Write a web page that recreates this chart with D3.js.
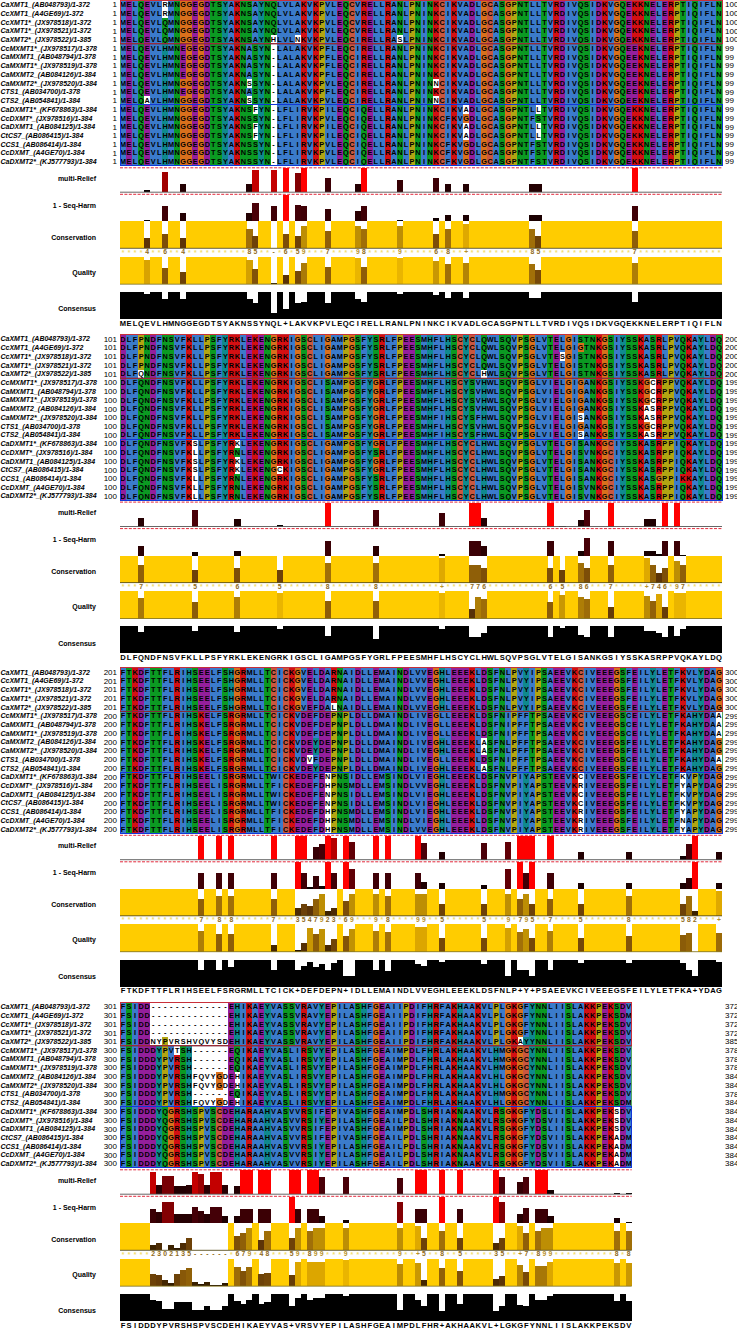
<!DOCTYPE html>
<html><head><meta charset="utf-8">
<script src="https://cdn.jsdelivr.net/npm/d3@7/dist/d3.min.js"></script>
<style>html,body{margin:0;padding:0;background:#fff}svg{display:block}text{font-family:"Liberation Sans",Arial,sans-serif}rect{shape-rendering:crispEdges}</style>
</head><body><div id="chart"></div>
<script>
const seqNames=["CaXMT1_(AB048793)/1-372","CcXMT1_(A4GE69)/1-372","CcXMT1*_(JX978518)/1-372","CaXMT1*_(JX978521)/1-372","CaXMT2*_(JX978522)/1-385","CcMXMT1*_(JX978517)/1-378","CaMXMT1_(AB048794)/1-378","CaMXMT1*_(JX978519)/1-378","CaMXMT2_(AB084126)/1-384","CaMXMT2*_(JX978520)/1-384","CTS1_(AB034700)/1-378","CTS2_(AB054841)/1-384","CaDXMT1*_(KF678863)/1-384","CcDXMT*_(JX978516)/1-384","CaDXMT1_(AB084125)/1-384","CtCS7_(AB086415)/1-384","CCS1_(AB086414)/1-384","CcDXMT_(A4GE70)/1-384","CaDXMT2*_(KJ577793)/1-384"];
const groupOf=[0,0,0,0,0,1,1,1,1,1,1,1,2,2,2,2,2,2,2];
const trackNames=["multi-Relief","1 - Seq-Harm","Conservation","Quality","Consensus"];

const seq1=[
"MELQEVLRMNGGEGDTSYAKNSAYNQLVLAKVKPVLEQCVRELLRANLPNINKCIKVADLGCASGPNTLLTVRDIVQSIDKVGQEKKNELERPTIQIFLN",
"MELQEVLRMNGGEGDTSYAKNSAYNQLVLAKVKPVLEQCVRELLRANLPNINKCIKVADLGCASGPNTLLTVRDIVQSIDKVGQEKKNELERPTIQIFLN",
"MELQEVLQMNGGEGDTSYAKNSAYNQLVLAKVKPVLEQCVRELLRANLPNINKCIKVADLGCASGPNTLLTVRDIVQSIDKVGQEKKNELERPTIQIFLN",
"MELQEVLQMNGGEGDTSYAKNSAYNQLVLAKVKPVLEQCVRELLRANLPNINKCIKVADLGCASGPNTLLTVRDIVQSIDKVGQEKKNELERPTIQIFLN",
"MELQEVLQMNGGEGDTSYAKNSAYNHLVLNKVKPVLEQCIRELLRASLPNINKCIKVADLGCASGPNTLLTVRDIVQSIDKVGQEKKNELERPTIQIFLN",
"MELQEVLHMNEGEGDTSYAKNASYN-LALAKVKPFLEQCIRELLRANLPNINKCIKVADLGCASGPNTLLTVRDIVQSIDKVGQEEKNELERPTIQIFLN",
"MELQEVLHMNEGEGDTSYAKNASYN-LALAKVKPFLEQCIRELLRANLPNINKCIKVADLGCASGPNTLLTVRDIVQSIDKVGQEEKNELERPTIQIFLN",
"MELQEVLHMNEGEGDTSYAKNASYN-LALAKVKPFLEQCIRELLRANLPNINKCIKVADLGCASGPNTLLTVRDIVQSIDKVGQEEKNELERPTIQIFLN",
"MELQEVLHMNEGEGDTSYAKNASYN-LALAKVKPFLEQCIRELLRANLPNINKCIKVADLGCASGPNTLLTVRDIVQSIDKVGQEEKNELERPTIQIFLN",
"MELQEVLHMNGGEGDTSYAKNSSYN-LALAKVKPVLEQCIRELLRANLPNINNCIKVADLGCASGPNTLLTVRDIVQSIDKVGQEEKNELERPTIQIFLN",
"MELQEVLHMNEGEGDTSYAKNASYN-LALAKVKPFLEQCIRELLRANLPNINKCIKVADLGCASGPNTLLTVRDIVQSIDKVGQEEKNELERPTIQIFLN",
"MELQAVLHMNGGEGDTSYAKNSSYN-LALAKVKPVLEQCIRELLRANLPNINNCIKVADLGCASGPNTLLTVRDIVQSIDKVGQEEKNELERPTIQIFLN",
"MELQEVLHMNGGEGDTSYAKNSFYN-LFLIRVKPILEQCIQELLRANLPNINKCIKVADLGCASGPNTLLTVRDIVQSIDKVGQEKKNELERPTIQIFLN",
"MELQEVLHMNGGEGDTSYAKNSSYN-LFLIRVKPVLEQCIQELLRANLPNINKCFKVGDLGCASGPNTFSTVRDIVQSIDKVGQEKKNELERPTIQIFLN",
"MELQEVLHMNGGEGDTSYAKNSFYN-LFLIRVKPILEQCIQELLRANLPNINKCIKVADLGCASGPNTLLTVRDIVQSIDKVGQEKKNELERPTIQIFLN",
"MELQEVLHMNGGEGDTSYAKNSFYN-LFLIRVKPILEQCIQELLRANLPNINKCIKVADLGCASGPNTLLTVRDIVQSIDKVGQEKKNELERPTIQIFLN",
"MELQEVLHMNGGEGDTSYAKNSSYN-LFLIRVKPVLEQCIQELLRANLPNINKCFKVGDLGCASGPNTFSTVRDIVQSIDKVGQEKKNELERPTIQIFLN",
"MELQEVLHMNGGEGDTSYAKNSSYN-LFLIRVKPVLEQCIQELLRANLPNINKCFKVGDLGCASGPNTFSTVRDIVQSIDKVGQEKKNELERPTIQIFLN",
"MELQEVLHMNGGEGDTSYAKNSSYN-LFLIRVKPVLEQCIQELLRANLPNINKCFKVGDLGCASGPNTFSTVRDIVQSIDKVGQEKKNELERPTIQIFLN"];
const seq2=[
"DLFPNDFNSVFKLLPSFYRKLEKENGRKIGSCLIGAMPGSFYSRLFPEESMHFLHSCYCLQWLSQVPSGLVTELGISTNKGSIYSSKASRLPVQKAYLDQ",
"DLFPNDFNSVFKLLPSFYRKLEKENGRKIGSCLIGAMPGSFYSRLFPEESMHFLHSCYCLQWLSQVPSGLVTELGIGTNKGSIYSSKASRLPVQKAYLDQ",
"DLFPNDFNSVFKLLPSFYRKLEKENGRKIGSCLIGAMPGSFYSRLFPEESMHFLHSCYCLQWLSQVPSGLVTESGISTNKGSIYSSKASRLPVQKAYLDQ",
"DLFPNDFNSVFKLLPSFYRKLEKENGRKIGSCLIGAMPGSFYSRLFPEESMHFLHSCYCLQWLSQVPSGLVTELGISTNKGSIYSSKASRLPVQKAYLDQ",
"DLFQNDFNSVFKLLPSFYRKLEKENGRKIGSCLIGAMPGSFYSRLFPEESMHFLHSCYCLHWLSQVPSGLVTELGISTNKGSIYSSKASRLPVQKAYLDQ",
"DLFQNDFNSVFKLLPSFYRKLEKENGRKIGSCLISAMPGSFYGRLFPEESMHFLHSCYSVHWLSQVPSGLVIELGIGANKGSIYSSKGCRPPVQKAYLDQ",
"DLFQNDFNSVFKLLPSFYRKLEKENGRKIGSCLISAMPGSFYGRLFPEESMHFLHSCYSVHWLSQVPSGLVIELGIGANKGSIYSSKGCRPPVQKAYLDQ",
"DLFQNDFNSVFKLLPSFYRKLEKENGRKIGSCLISAMPGSFYGRLFPEESMHFLHSCYSVHWLSQVPSGLVIELGIGANKGSIYSSKGCRPPVQKAYLDQ",
"DLFQNDFNSVFKLLPSFYRKLEKENGRKIGSCLISAMPGSFYGRLFPEESMHFLHSCYSVHWLSQVPSGLVIELGIGANKGSIYSSKASRPPVQKAYLDQ",
"DLFQNDFNSVFKLLPSFYRKLEKENGRKIGSCLISAMPGSFYGRLFPEESMHFIHSCYSFHWLSQVPSGLVIELGISANKGSIYSSKASRPPVQKAYLDQ",
"DLFQNDFNSVFKLLPSFYRKLEKENGRKIGSCLISAMPGSFYGRLFPEESMHFLHSCYSVHWLSQVPSGLVIELGIGANKGSIYSSKGCRPPVQKAYLDQ",
"DLFQNDFNSVFKLLPSFYRKLEKENGRKIGSCLISAMPGSFYGRLFPEESMHFIHSCYSFHWLSQVPSGLVIELGISANKGSIYSSKASRPPVQKAYLDQ",
"DLFQNDFNSVFKSLPSFYRKLEKENGRKIGSCLIGAMPGSFYGRLFPEESMHFLHSCYCLHWLSQVPSGLVTELGISANKGCIYSSKASRPPIQKAYLDQ",
"DLFQNDFNSVFKLLPSFYRNLEKENGRKIGSCLIGAMPGSFYSRLFPEESMHFLHSCYCLHWLSQVPSGLVTELGISVNKGCIYSSKASRPPIQKAYLDQ",
"DLFQNDFNSVFKSLPSFYRKLEKENGRKIGSCLIGAMPGSFYGRLFPEESMHFLHSCYCLHWLSQVPSGLVTELGISANKGCIYSSKASRPPIQKAYLDQ",
"DLFQNDFNSVFKSLPSFYRKLEKENGCKIGSCLIGAMPGSFYGRLFPEESMHFLHSCYCLHWLSQVPSGLVTELGISANKGCIYSSKASRPPIQKAYLDQ",
"DLFQNDFNSVFKLLPSFYRNLEKENGRKIGSCLIGAMPGSFYSRLFPEESMHFLHSCYCLHWLSQVPSGLVTELGISANKGCIYSSKASGPPIKKAYLDQ",
"DLFQNDFNSVFKLLPSFYRNLEKENGRKIGSCLIGAMPGSFYSRLFPEESMHFLHSCYCLHWLSQVPSGLVTELGISVNKGCIYSSKASRPPIQKAYLDQ",
"DLFQNDFNSVFKLLPSFYRNLEKENGRKIGSCLIGAMPGSFYSRLFPEESMHFLHSCYCLHWLSQVPSGLVTELGISVNKGCIYSSKASRPPIQKAYLDQ"];
const seq3=[
"FTKDFTTFLRIHSEELFSHGRMLLTCICKGVELDARNAIDLLEMAINDLVVEGHLEEEKLDSFNLPVYIPSAEEVKCIVEEEGSFEILYLETFKVLYDAG",
"FTKDFTTFLRIHSEELFSHGRMLLTCICKGVELDARNAIDLLEMAINDLVVEGHLEEEKLDSFNLPVYIPSAEEVKCIVEEEGSFEILYLETFKVLYDAG",
"FTKDFTTFLRIHSEELFSHGRMLLTCICKGVELDARNAIDLLEMAINDLVVEGHLEEEKLDSFNLPVYIPSAEEVKCIVEEEGSFEILYLETFKVLYDAG",
"FTKDFTTFLRIHSEELFSHGRMLLTCICKGVELDARNAIDLLEMAINDLVVEGHLEEEKLDSFNLPVYIPSAEEVKCIVEEEGSFEILYLETFKVLYDAG",
"FTKDFTTFLRIHSEELFSHGRMLLTCICKGVEFDALNAIDLLEMAINDLVVEGHLEEEKLDSFNLPVYIPSAEEVKCIVEEEGSFEILYLETFKVLYDAG",
"FTKDFTTFLRIHSKELFSRGRMLLTCICKVDEFDEPNPLDLLDMAINDLIVEGLLEEEKLDSFNIPFFTPSAEEVKCIVEEEGSCEILYLETFKAHYDAA",
"FTKDFTTFLRIHSKELFSRGRMLLTCICKVDEFDEPNPLDLLDMAINDLIVEGLLEEEKLDSFNIPFFTPSAEEVKCIVEEEGSCEILYLETFKAHYDAA",
"FTKDFTTFLRIHSKELFSRGRMLLTCICKVDEFDEPNPLDLLDMAINDLIVEGLLEEEKLDSFNIPFFTPSAEEVKCIVEEEGSCEILYLETFKAHYDAA",
"FTKDFTTFLRIHSKELFSRGRMLLTCICKVDEYDEPNPLDLLDMAINDLIVEGHLEEEKLASFNLPFFTPSAEEVKCIVEEEGSFEILYLETFKAHYDAG",
"FTKDFTTFLRIHSKELFSRGRMLLTCICKVDEYDEPNPLDLLDMAINDLIVEGHLEEEKLASFNLPFFTPSAEEVKCIVEEEGSFEILYLETFKAHYDAG",
"FTKDFTTFLRIHSKELFSRGRMLLTCICKVDVFDEPNPLDLLDMAINDLIVEGLLEEEKLDSFNIPFFTPSAEEVKCIVEEEGSCEILYLETFKAHYDAA",
"FTKDFTTFLRIHSKELFSRGRMLLTCICKVDEYDEPNPLDLLDMAINDLIVEGHLEEEKLASFNLPFFTPSAEEVKCIVEEEGSFEILYLETFKAHYDAG",
"FTKDFTTFLRIHSEELISRGRMLLTWICKEDEFENPNSIDLLEMSINDLVIEGHLEEEKLDSFNVPIYAPSTEEVKCIVEEEGSFEILYLETFKVPYDAG",
"FTKDFTTFLRIHSEELISRGRMLLTFICKEDEFDHPNSMDLLEMSINDLVVEGHLEEEKLDSFNVPIYAPSTEEVKRIVEEEGSFEILYLETFYAPYDAG",
"FTKDFTTFLRIHSEELISRGRMLLTWICKEDEFENPNSIDLLEMSINDLVIEGHLEEEKLDSFNVPIYAPSTEEVKCIVEEEGSFEILYLETFKVPYDAG",
"FTKDFTTFLRIHSEELISRGRMLLTWICKEDEFENPNSIDLLEMSINDLVIEGHLEEEKLDSFNVPIYAPSTEEVKCIVEEEGSFEILYLETFKVPYDAG",
"FTKDFTTFLRIHSEELISRGRMLLTFICKEDEFDHPNSMDLLEMSINDLVIEGHLEEEKLDSFNVPIYAPSTEEVKRIVEEEGSFEILYLETFYAPYDAG",
"FTKDFTTFLRIHSEELISRGRMLLTFICKEDEFDHPNSMDLLEMSINDLVIEGHLEEEKLDSFNVPIYAPSTEEVKRIVEEEGSFEILYLETFNAPYDAG",
"FTKDFTTFLRIHSEELISRGRMLLTFICKEDEFDHPNSMDLLEMSINDLVVEGHLEEEKLDSFNVPIYAPSTEEVKRIVEEEGSFEILYLETFYAPYDAG"];
const seq4=[
"FSIDD-------------EHIKAEYVASSVRAVYEPILASHFGEAIIPDIFHRFAKHAAKVLPLGKGFYNNLIISLAKKPEKSDV",
"FSIDD-------------EHIKAEYVASSVRAVYEPILASHFGEAIIPDIFHRFAKHAAKVLPLGKGFYNNLIISLAKKPEKSDM",
"FSIDD-------------EHIKAEYVASSVRAVYEPILASHFGEAIIPDIFHRFAKHAAKVLPLGKGFYNNLIISLAKKPEKSDV",
"FSIDD-------------EHIKAEYVASSVRAVYEPILASHFGEAIIPDIFHRFAKHAAKVLPLGKGFYNNLIISLAKKPEKSDV",
"FSIDDNYPVRSHVQVYSDEHIKAEYVASSVRAVYEPILASHFGEAIIPDIFHRFAKHAAKVLPLGKAYYNNLIISLAKKPEKSDV",
"FSIDDDYPVTSH------EQIKAEYVASLIRSVYEPILASHFGEAIMPDLFHRLAKHAAKVLHMGKGCYNNLIISLAKKPEKSDV",
"FSIDDDYPVRSH------EQIKAEYVASLIRSVYEPILASHFGEAIMPDLFHRLAKHAAKVLHMGKGCYNNLIISLAKKPEKSDV",
"FSIDDDYPVRSH------EQIKAEYVASLIRSVYEPILASHFGEAIMPDLFHRLAKHAAKVLHMGKGCYNNLIISLAKKPEKSDV",
"FSIDDDYPVRSHFQVYGDEHIKAEYVASLIRSVYEPILASHFGEAIMPDLFHRLAKHAAKVLHLGKGCYNNLIISLAKKPEKSDV",
"FSIDDDYPVRSHFQVYGDEHIKAEYVASLIRSVYEPILASHFGEAIMPDLFHRLAKHAAKVLHLGKGCYNNLIISLAKKPEKSDV",
"FSIDDDYPVRSH------EQIKAEYVASLIRSVYEPILASHFGEAIMPDLFHRLAKHAAKVLHMGKGCYNNLIISLAKKPEKSDV",
"FSIDDDYPVRSHFQVYGDEHIKAEYVASLIRSVYEPILASHFGEAIMPDLFHRLAKHAAKVLHLGKGCYNNLIISLAKKPEKSDM",
"FSIDDDYQGRSHSPVSCDEHARAAHVASVVRSIFEPIVASHFGEAIMPDLSHRIAKNAAKVLRSGKGFYDSLIISLAKKPEKSDV",
"FSIDDDYQGRSHSPVSCDEHARAAHVASVVRSIYEPILASHFGEAILPDLSHRIAKNAAKVLRSGKGFYDSVIISLAKKPEKSDV",
"FSIDDDYQGRSHSPVSCDEHARAAHVASVVRSIFEPIVASHFGEAIMPDLSHRIAKNAAKVLRSGKGFYDSLIISLAKKPEKSDV",
"FSIDDDYQGRSHSPVSCDEHARAAHVASVVRSIFEPIVASHFGEAILPDLSHRIAKNAAKVLRSGKGFYDSVIISLAKKPEKADM",
"FSIDDDYQGRSHSPVSCDEHARAAHVASVVRSIYEPILASHFGEAILPDLSHRIAKNAAKVLRSGKGFYDSVIISLAKKPEKADM",
"FSIDDDYQGRSHSPVSCDEHARAAHVASVVRSIYEPILASHFGEAILPDLSHRIAKNAAKVLRSGKGFYDSVIISLAKKPEKADM",
"FSIDDDYQGRSHSPVSCDEHARAAHVASVVRSIYEPILASHFGEAILPDLSHRIAKNAAKVLRSGKGFYDSVIISLAKKPEKADM"];

const startNums1=[1,1,1,1,1,1,1,1,1,1,1,1,1,1,1,1,1,1,1];
const startNums2=[101,101,101,101,101,100,100,100,100,100,100,100,100,100,100,100,100,100,100];
const startNums3=[201,201,201,201,201,200,200,200,200,200,200,200,200,200,200,200,200,200,200];
const startNums4=[301,301,301,301,301,300,300,300,300,300,300,300,300,300,300,300,300,300,300];
const endNums1=[100,100,100,100,100,99,99,99,99,99,99,99,99,99,99,99,99,99,99];
const endNums2=[200,200,200,200,200,199,199,199,199,199,199,199,199,199,199,199,199,199,199];
const endNums3=[300,300,300,300,300,299,299,299,299,299,299,299,299,299,299,299,299,299,299];
const endNums4=[372,372,372,372,385,378,378,378,384,384,378,384,384,384,384,384,384,384,384];

const consensus1="MELQEVLHMNGGEGDTSYAKNSSYNQL+LAKVKPVLEQCIRELLRANLPNINKCIKVADLGCASGPNTLLTVRDIVQSIDKVGQEKKNELERPTIQIFLN";
const consensus2="DLFQNDFNSVFKLLPSFYRKLEKENGRKIGSCLIGAMPGSFYGRLFPEESMHFLHSCYCLHWLSQVPSGLVTELGISANKGSIYSSKASRPPVQKAYLDQ";
const consensus3="FTKDFTTFLRIHSEELFSRGRMLLTCICK+DEFDEPN+IDLLEMAINDLVVEGHLEEEKLDSFNLP+Y+PSAEEVKCIVEEEGSFEILYLETFKA+YDAG";
const consensus4="FSIDDDYPVRSHSPVSCDEHIKAEYVAS+VRSVYEPILASHFGEAIMPDLFHR+AKHAAKVL+LGKGFYNNLIISLAKKPEKSDV";

// Columns (0-based within a block) where the tracks drop below full conservation.
// Scores: 11 is "*", 10 is "+", -1 is a "-" with no bar.
const varCols1=[4,7,10,21,22,25,27,29,30,34,39,40,46,52,54,57,68,69,85];
const relief1=[.1,.85,.33,.33,.93,.93,1,.8,1,.58,.36,1,.5,.58,.33,.33,.33,.33,1];
const harm1=[.08,.6,.33,.33,.7,.6,1,.63,.6,.49,.41,.6,.08,.15,.26,.26,.26,.26,.6];
const score1=[4,6,4,8,5,-1,6,5,9,7,9,8,9,6,8,10,8,5,7];
const quality1=[.89,.6,.45,.88,.57,.06,.35,.5,.76,.63,.94,.63,.94,.85,.72,.79,.73,.51,.77];
const consVal1=[.93,.73,.73,.73,.58,.21,.36,.58,.62,.58,.73,.62,.93,.88,.78,.78,.78,.78,.62];

const varCols2=[3,12,19,26,34,42,53,58,59,60,71,73,76,77,81,87,88,89,90,92,93];
const relief2=[.35,.7,.3,.06,1,.7,.58,1,1,.35,1,.02,.28,.7,1,.3,.3,0,1,1,0];
const harm2=[.4,.16,.22,.04,.56,.4,.1,.56,.56,.4,.56,.04,.22,.66,.56,.22,.22,.1,.56,.56,.06];
const score2=[7,5,6,5,8,8,10,7,7,6,6,5,8,6,7,10,7,4,6,9,7];
const quality2=[.75,.62,.77,.94,.63,.65,.94,.33,.77,.71,.62,.85,.77,.71,.42,.81,.65,.9,.42,.94,.94];
const consVal2=[.78,.84,.78,.92,.65,.55,.92,.6,.6,.74,.6,.94,.69,.59,.6,.84,.84,.75,.6,.65,.9];

const varCols3=[13,16,18,25,29,30,31,32,33,34,35,37,38,42,44,49,50,53,60,64,66,67,68,71,76,84,93,94,95,99];
const relief3=[1,1,1,1,1,1,.04,.53,.64,1,.9,1,.74,1,1,1,.7,.32,.7,.74,1,1,1,1,.32,.32,.15,.64,1,.32];
const harm3=[.6,.6,.6,.6,1,.6,.1,.5,.14,1,.6,1,.74,.6,.6,.6,.3,.24,.16,.74,1,.6,1,.6,.24,.24,.26,.44,1,.24];
const score3=[7,8,8,7,3,5,4,7,9,2,3,6,9,9,8,9,9,5,5,9,7,9,5,7,5,8,5,8,2,10];
const quality3=[.77,.63,.63,.23,.06,.31,.85,.63,.83,.25,.48,.58,.83,.77,.73,.9,.9,.5,.5,.88,.73,.83,.5,.77,.5,.58,.62,.67,0,.7];
const consVal3=[.62,.63,.71,.63,.63,.77,.92,.73,.83,.62,.87,.38,.38,.63,.58,.83,.77,.9,.83,.38,.6,.6,.38,.63,.87,.87,.87,.63,.38,.9];

const varCols4=[5,6,7,8,9,10,11,12,13,14,15,16,17,19,20,21,23,24,28,29,31,32,33,37,46,49,50,53,56,62,63,66,67,69,70,71,82,84];
const relief4=[.93,.38,.78,.78,.33,.33,.38,.93,.84,.4,.93,.93,.38,.33,1,1,1,1,1,1,1,1,.7,.7,.67,1,1,1,1,1,.7,.5,.7,1,1,.18,.03,.05];
const harm4=[.56,.44,.8,.8,.36,.36,.36,.64,.5,.36,.64,.64,.3,.3,.56,.56,.56,.56,1,.56,.56,.56,.3,.16,.8,.56,.56,1,.56,1,.8,.36,.6,.56,.56,.3,.24,.08];
const score4=[2,3,0,2,1,3,5,-1,-1,-1,-1,-1,-1,6,7,9,4,8,5,9,8,9,9,9,9,10,5,8,5,3,5,10,7,8,9,9,8,8];
const quality4=[.46,.42,.23,.13,.46,.6,.65,.17,.08,.17,.04,.04,.1,.71,.56,.71,.46,.5,.42,.9,.9,.9,.9,.94,.81,.85,.23,.65,.56,.27,.37,.79,.52,.75,.75,.9,.85,.85];
const consVal4=[.8,.75,.43,.43,.7,.72,.72,.4,.4,.55,.4,.4,.55,.75,.65,.8,.65,.7,.55,.85,.8,.85,.85,.92,.42,.8,.55,.38,.65,.38,.55,.6,.55,.8,.8,.92,.75,.75];

const blocks=[
 {top:.3,seq:seq1,start:startNums1,end:endNums1,consensus:consensus1,cols:varCols1,relief:relief1,harm:harm1,score:score1,quality:quality1,consVal:consVal1},
 {top:334.6,seq:seq2,start:startNums2,end:endNums2,consensus:consensus2,cols:varCols2,relief:relief2,harm:harm2,score:score2,quality:quality2,consVal:consVal2},
 {top:667.8,seq:seq3,start:startNums3,end:endNums3,consensus:consensus3,cols:varCols3,relief:relief3,harm:harm3,score:score3,quality:quality3,consVal:consVal3},
 {top:1002.3,seq:seq4,start:startNums4,end:endNums4,consensus:consensus4,cols:varCols4,relief:relief4,harm:harm4,score:score4,quality:quality4,consVal:consVal4}];

const W=737,H=1328;
const svg=d3.select("#chart").append("svg").attr("width",W).attr("height",H);
const x=d3.scaleLinear().domain([0,100]).range([120,722]);
const cw=x(1)-x(0);
const rowH=8.72;
const rowY=d3.scaleLinear().domain([0,19]).range([0,rowH*19]);
const CLR={blue:"#3b7bcb",red:"#d40f12",green:"#0b9a22",magenta:"#941f9c",pink:"#c9573f",orange:"#d9701c",yellow:"#b2a512",cyan:"#0f8a8e"};
const scoreColor=d3.scaleLinear().domain([0,2,4,6,8,9,10,11]).range(["#1c0e00","#3c2200","#5c3408","#7d4e08","#a06f08","#bd8e04","#dfa900","#ffcc00"]);
const heat=d3.scaleLinear().domain([0,.4,.7,.85,.95,1]).range(["#000000","#2a0002","#4a0008","#a00000","#cc0000","#ff0000"]);

function pct(counts,total,set){let n=0;for(const c of set)n+=(counts[c]||0);return 100*n/total;}
function cellColor(ch,counts,t){
 const hyd=pct(counts,t,"WLVIMAFCHPY"),kr=pct(counts,t,"KR"),qe=pct(counts,t,"QE"),ed=pct(counts,t,"ED"),ts=pct(counts,t,"TS");
 const p=c=>pct(counts,t,c);
 switch(ch){
  case"A":case"I":case"L":case"M":case"F":case"W":case"V":return hyd>60?CLR.blue:null;
  case"C":return p("C")>85?CLR.pink:(hyd>60?CLR.blue:null);
  case"K":case"R":return (kr>60||p("K")>80||p("R")>80||p("Q")>80)?CLR.red:null;
  case"N":return (p("N")>50||p("Y")>85)?CLR.green:null;
  case"D":return (kr>60||ed>50)?CLR.magenta:null;
  case"E":return (kr>60||qe>50||ed>50)?CLR.magenta:null;
  case"Q":return (kr>60||qe>50||p("Q")>85)?CLR.green:null;
  case"S":case"T":return (ts>50||p("S")>80||p("T")>80)?CLR.green:null;
  case"G":return CLR.orange;
  case"P":return CLR.yellow;
  case"H":case"Y":return (hyd>60||p("Y")>85)?CLR.cyan:null;
 }
 return null;
}

blocks.forEach(b=>{
 const g=svg.append("g").attr("transform",`translate(0,${b.top})`);
 const nCols=b.consensus.length;
 const groups=[0,1,2].map(k=>d3.range(nCols).map(c=>{
   const m={};let t=0;
   b.seq.forEach((s,r)=>{if(groupOf[r]===k){t++;m[s[c]]=(m[s[c]]||0)+1;}});
   return {m,t};
 }));
 const cells=[];
 b.seq.forEach((s,r)=>{for(let c=0;c<nCols;c++){
   const info=groups[groupOf[r]][c];
   cells.push({r,c,ch:s[c],col:cellColor(s[c],info.m,info.t)});
 }});
 g.append("g").selectAll("rect").data(cells.filter(d=>d.col)).join("rect")
  .attr("x",d=>x(d.c)).attr("y",d=>rowY(d.r)).attr("width",cw+.2).attr("height",rowH+.2).attr("fill",d=>d.col);
 g.append("g").attr("font-size",7.3).attr("font-weight","bold").attr("text-anchor","middle").attr("fill","#000")
  .selectAll("text").data(cells).join("text")
  .attr("x",d=>x(d.c+.5)).attr("y",d=>rowY(d.r)+rowH/2+2.6).text(d=>d.ch);
 [[5,12,"#55a860"],[0,5,"#c8303a"],[12,19,"#1238d8"]].forEach(o=>{
  g.append("rect").attr("x",x(0)).attr("y",rowY(o[0])).attr("width",x(nCols)-x(0)).attr("height",rowY(o[1])-rowY(o[0]))
   .attr("fill","none").attr("stroke",o[2]).attr("stroke-width",1);
 });
 g.append("line").attr("x1",x(0)).attr("x2",x(nCols)).attr("y1",rowY(5)).attr("y2",rowY(5)).attr("stroke","#7a2a38");
 g.append("g").attr("font-size",7).attr("font-weight","bold").attr("font-style","italic").selectAll("text").data(seqNames).join("text")
  .attr("x",.5).attr("y",(d,i)=>rowY(i)+rowH/2+2.5).text(d=>d);
 g.append("g").attr("font-size",8).attr("text-anchor","end").selectAll("text").data(b.start).join("text")
  .attr("x",117).attr("y",(d,i)=>rowY(i)+rowH/2+2.8).text(d=>d);
 g.append("g").attr("font-size",8).selectAll("text").data(b.end).join("text")
  .attr("x",725).attr("y",(d,i)=>rowY(i)+rowH/2+2.8).text(d=>d);

 const T=167.5;
 const ann=g.append("g");
 const full=d3.range(nCols);
 const lookup=k=>{const a=new Map();b.cols.forEach((c,i)=>a.set(c,b[k][i]));return a;};
 const rel=lookup("relief"),har=lookup("harm"),sco=lookup("score"),qua=lookup("quality"),con=lookup("consVal");
 const yRel=d3.scaleLinear().domain([0,1]).range([T+24.4,T+.5]);
 const yHar=d3.scaleLinear().domain([0,1]).range([T+54.5,T+27]);
 const yCon=d3.scaleLinear().domain([0,11]).range([T+80.5,T+53.5]);
 const yQua=d3.scaleLinear().domain([0,1]).range([T+116.4,T+89]);
 const yCns=d3.scaleLinear().domain([0,1]).range([T+151.3,T+124.3]);
 const dash=y=>ann.append("line").attr("x1",x(0)).attr("x2",x(nCols)).attr("y1",y).attr("y2",y).attr("stroke","#e22a3c").attr("stroke-width",1).attr("stroke-dasharray","3 1.4");
 const base=(y,col)=>ann.append("line").attr("x1",x(0)).attr("x2",x(nCols)).attr("y1",y).attr("y2",y).attr("stroke",col).attr("stroke-width",.9);
 dash(T); dash(T+26.5);
 ann.append("g").selectAll("rect").data(b.cols.filter(c=>rel.get(c)>0)).join("rect")
  .attr("x",c=>x(c)).attr("width",cw+.1).attr("y",c=>yRel(rel.get(c))).attr("height",c=>yRel(0)-yRel(rel.get(c))).attr("fill",c=>heat(rel.get(c)));
 base(yRel(0),"#555");
 ann.append("g").selectAll("rect").data(b.cols).join("rect")
  .attr("x",c=>x(c)).attr("width",cw+.1).attr("y",c=>yHar(har.get(c))).attr("height",c=>yHar(0)-yHar(har.get(c))).attr("fill",c=>heat(har.get(c)));
 const sval=c=>sco.has(c)?sco.get(c):11;
 const sbar=c=>Math.max(sval(c),0);
 ann.append("g").selectAll("rect").data(full.filter(c=>sval(c)<11)).join("rect")
  .attr("x",c=>x(c)).attr("width",cw+.1).attr("y",yCon(11)).attr("height",c=>yCon(sbar(c))-yCon(11)).attr("fill","#fff");
 ann.append("g").selectAll("rect").data(full).join("rect")
  .attr("x",c=>x(c)).attr("width",cw+.1).attr("y",c=>yCon(sbar(c))).attr("height",c=>yCon(0)-yCon(sbar(c))).attr("fill",c=>scoreColor(sbar(c)));
 base(yCon(0),"#5a5020");
 ann.append("g").attr("text-anchor","middle").attr("font-size",6.8).attr("font-weight","bold").selectAll("text").data(full).join("text")
  .attr("x",c=>x(c+.5)).attr("y",c=>sval(c)===11?yCon(0)+6.6:yCon(0)+6.2)
  .attr("fill",c=>{const s=sval(c);return s===11?"#f2dd70":s>=9?"#b8922a":"#8f6a18";})
  .text(c=>{const s=sval(c);return s===11?"*":s===10?"+":s===-1?"-":s;});
 const qval=c=>qua.has(c)?qua.get(c):1;
 ann.append("g").selectAll("rect").data(full).join("rect")
  .attr("x",c=>x(c)).attr("width",cw+.1).attr("y",c=>yQua(qval(c))).attr("height",c=>yQua(0)-yQua(qval(c))).attr("fill",c=>scoreColor(qval(c)*11));
 base(yQua(0),"#8a7a28");
 const cval=c=>con.has(c)?con.get(c):1;
 ann.append("g").selectAll("rect").data(full).join("rect")
  .attr("x",c=>x(c)).attr("width",cw+.1).attr("y",c=>yCns(cval(c))).attr("height",c=>yCns(0)-yCns(cval(c))).attr("fill","#000");
 ann.append("g").attr("text-anchor","middle").attr("font-size",7.6).attr("font-weight","bold").selectAll("text").data(full).join("text")
  .attr("x",c=>x(c+.5)).attr("y",yCns(0)+6.8).text(c=>b.consensus[c]);
 const labelY=[T+13,T+40,T+72,T+107,T+143.5];
 ann.append("g").attr("text-anchor","end").attr("font-size",7).attr("font-weight","bold").selectAll("text").data(trackNames).join("text")
  .attr("x",96).attr("y",(d,i)=>labelY[i]).text(d=>d);
});
</script></body></html>
